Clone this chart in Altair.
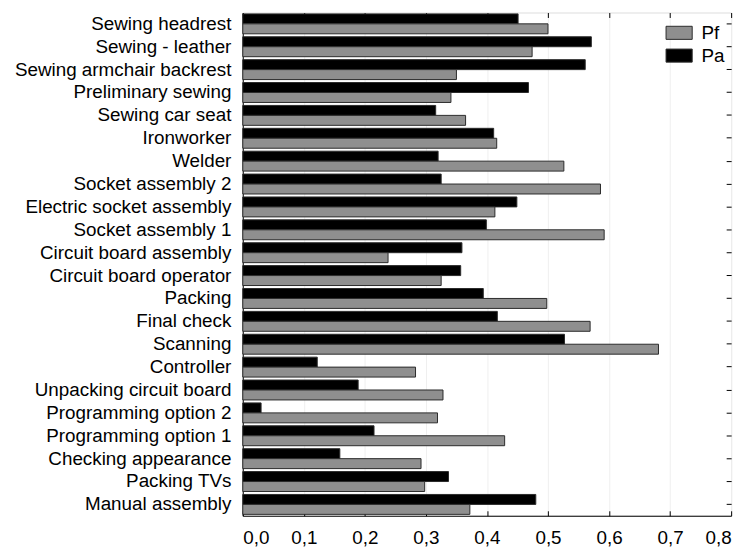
import altair as alt
import pandas as pd

categories = [
    "Sewing headrest", "Sewing - leather", "Sewing armchair backrest",
    "Preliminary sewing", "Sewing car seat", "Ironworker", "Welder",
    "Socket assembly 2", "Electric socket assembly", "Socket assembly 1",
    "Circuit board assembly", "Circuit board operator", "Packing",
    "Final check", "Scanning", "Controller", "Unpacking circuit board",
    "Programming option 2", "Programming option 1", "Checking appearance",
    "Packing TVs", "Manual assembly",
]
pa = [0.451, 0.571, 0.561, 0.468, 0.316, 0.411, 0.320, 0.325, 0.449, 0.399,
      0.359, 0.357, 0.394, 0.417, 0.527, 0.122, 0.189, 0.030, 0.215, 0.159,
      0.337, 0.480]
pf = [0.500, 0.474, 0.350, 0.341, 0.365, 0.416, 0.526, 0.586, 0.413, 0.592,
      0.238, 0.325, 0.498, 0.569, 0.681, 0.283, 0.328, 0.319, 0.429, 0.292,
      0.298, 0.372]
series = ["Pf", "Pa"]
x_ticks = [0.0, 0.1, 0.2, 0.3, 0.4, 0.5, 0.6, 0.7, 0.8]

rows = []
for c, a, f in zip(categories, pa, pf):
    rows.append({"cat": c, "series": "Pa", "value": a})
    rows.append({"cat": c, "series": "Pf", "value": f})
df = pd.DataFrame(rows)

FONT = "Liberation Sans"
FS = 19

xscale = alt.Scale(domain=[0, 0.8], nice=False, zero=True)
yscale = alt.Scale(paddingInner=0.13, paddingOuter=0.06)

bars = alt.Chart(df).mark_bar(stroke="#2a2a2a", strokeWidth=1).encode(
    x=alt.X("value:Q", scale=xscale,
            axis=alt.Axis(title=None, values=x_ticks, tickSize=0, labelPadding=13,
                          labelExpr="replace(format(datum.value, '.1f'), '.', ',')",
                          grid=True, gridColor="#efefef", labelFontSize=FS,
                          labelColor="black", labelFont=FONT,
                          domainColor="black")),
    y=alt.Y("cat:N", sort=categories, scale=yscale,
            axis=alt.Axis(title=None, tickSize=0, labelPadding=12, labelFontSize=FS,
                          labelColor="black", labelFont=FONT, labelLimit=300,
                          domainColor="black")),
    yOffset=alt.YOffset("series:N", sort=["Pa", "Pf"]),
    color=alt.Color("series:N",
                    scale=alt.Scale(domain=series, range=["#8f8f8f", "#000000"]),
                    legend=alt.Legend(title=None, orient="none", legendX=428, legendY=8,
                                      padding=0,
                                      symbolType="M-1.1,-0.55H1.1V0.55H-1.1Z",
                                      symbolSize=576, symbolStrokeColor="#2a2a2a",
                                      symbolStrokeWidth=1, symbolOpacity=1,
                                      labelFontSize=FS, labelFont=FONT,
                                      labelColor="black", rowPadding=0,
                                      labelOffset=10)),
)

ticks_tr = alt.Chart(df).mark_point(opacity=0).encode(
    x=alt.X("value:Q", scale=xscale,
            axis=alt.Axis(title=None, orient="top", values=x_ticks, offset=-5,
                          tickSize=5, tickColor="black", labels=False,
                          domain=False, grid=False)),
    y=alt.Y("cat:N", sort=categories, scale=yscale,
            axis=alt.Axis(title=None, orient="right", offset=-5, tickSize=5,
                          tickColor="black", labels=False, domain=False,
                          grid=False)),
)

ticks_b = alt.Chart(df).mark_point(opacity=0).encode(
    x=alt.X("value:Q", scale=xscale,
            axis=alt.Axis(title=None, orient="bottom", values=x_ticks, offset=-5,
                          tickSize=5, tickColor="black", labels=False,
                          domain=False, grid=False)),
    y=alt.Y("cat:N", sort=categories, scale=yscale, axis=None),
)

chart = alt.layer(bars, ticks_tr, ticks_b).resolve_axis(
    x="independent", y="independent"
).properties(
    width=493,
    height=508,
    autosize=alt.AutoSizeParams(type="none"),
    padding={"left": 237, "top": 2, "right": 14, "bottom": 30},
).configure_view(
    stroke="black", strokeWidth=1
).configure(background="white")

chart.save("out.html", embed_options={"renderer": "svg", "actions": False})
